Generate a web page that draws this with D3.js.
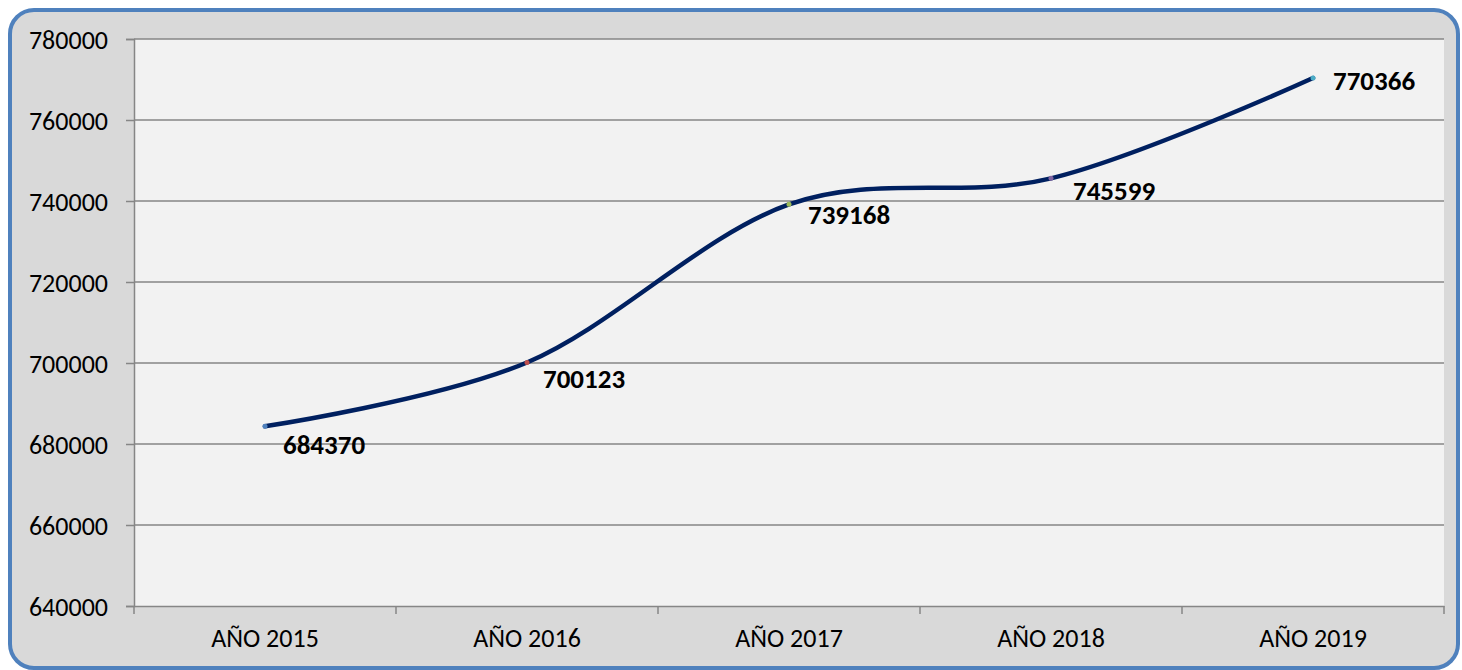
<!DOCTYPE html>
<html>
<head>
<meta charset="utf-8">
<script src="https://cdn.jsdelivr.net/npm/d3@7"></script>
<style>
  body { margin: 0; background: #ffffff; }
  svg { display: block; font-family: Carlito, Calibri, Lato, sans-serif; }
</style>
</head>
<body>
<svg width="1462" height="670"></svg>
<script>
const years = ['AÑO 2015', 'AÑO 2016', 'AÑO 2017', 'AÑO 2018', 'AÑO 2019'];
const values = [684370, 700123, 739168, 745599, 770366];
const yTicks = [640000, 660000, 680000, 700000, 720000, 740000, 760000, 780000];
const pointColors = ['#4f81bd', '#c0504d', '#9bbb59', '#8064a2', '#4bacc6'];
// label offsets from the point (dx, dy of text centre-left)
const labelOffsets = [[18, 18], [16, 16], [19, 10], [22, 12], [20, 2]];

const svg = d3.select('svg');
const width = +svg.attr('width');
const height = +svg.attr('height');

const margin = { top: 39, right: 18, bottom: 64, left: 134 };
const innerWidth = width - margin.left - margin.right;
const innerHeight = height - margin.top - margin.bottom;

// chart frame
svg.append('rect')
  .attr('x', 10).attr('y', 10)
  .attr('width', 1448).attr('height', 658)
  .attr('rx', 24).attr('ry', 24)
  .attr('fill', '#d9d9d9')
  .attr('stroke', '#4f81bd')
  .attr('stroke-width', 4);

const g = svg.append('g')
  .attr('transform', `translate(${margin.left},${margin.top})`);

const xScale = d3.scaleBand()
  .domain(years)
  .range([0, innerWidth]);

const yScale = d3.scaleLinear()
  .domain([640000, 780000])
  .range([innerHeight, 0]);

g.append('rect')
  .attr('width', innerWidth)
  .attr('height', innerHeight)
  .attr('fill', '#f2f2f2');

// y axis with gridlines
const yAxisG = g.append('g')
  .call(d3.axisLeft(yScale).tickValues(yTicks).tickFormat(d3.format('d'))
    .tickSize(8).tickPadding(18))
  .attr('font-family', null)
  .attr('font-size', 26);
yAxisG.selectAll('.tick text').attr('dy', '0.36em').attr('fill', '#000');
yAxisG.selectAll('.tick line').attr('stroke', '#868686').attr('stroke-width', 1.5);
yAxisG.select('.domain').attr('stroke', '#868686').attr('stroke-width', 1.5);

g.append('g')
  .selectAll('line')
  .data(yTicks.slice(1))
  .join('line')
    .attr('x1', 0).attr('x2', innerWidth)
    .attr('y1', d => yScale(d)).attr('y2', d => yScale(d))
    .attr('stroke', '#868686')
    .attr('stroke-width', 1.5);

// x axis, ticks at band edges
const xAxisG = g.append('g')
  .attr('transform', `translate(0,${innerHeight})`)
  .call(d3.axisBottom(xScale).tickSize(0).tickPadding(25))
  .attr('font-family', null)
  .attr('font-size', 26);
xAxisG.select('.domain').attr('stroke', '#868686').attr('stroke-width', 1.5);
xAxisG.selectAll('.tick text').attr('dy', '0.6em').attr('fill', '#000');

const edges = years.map(d => xScale(d)).concat([innerWidth]);
xAxisG.selectAll('.edge')
  .data(edges)
  .join('line')
    .attr('class', 'edge')
    .attr('x1', d => d).attr('x2', d => d)
    .attr('y1', 0).attr('y2', 8)
    .attr('stroke', '#868686')
    .attr('stroke-width', 1.5);

const xPos = (d, i) => xScale(years[i]) + xScale.bandwidth() / 2;

const line = d3.line()
  .x(xPos)
  .y(d => yScale(d))
  .curve(d3.curveCardinal.tension(0));

g.append('path')
  .datum(values)
  .attr('d', line)
  .attr('fill', 'none')
  .attr('stroke', '#002060')
  .attr('stroke-width', 4.5)
  .attr('stroke-linecap', 'round');

g.selectAll('.dot')
  .data(values)
  .join('circle')
    .attr('class', 'dot')
    .attr('cx', xPos)
    .attr('cy', d => yScale(d))
    .attr('r', 2.5)
    .attr('fill', (d, i) => pointColors[i]);

g.selectAll('.label')
  .data(values)
  .join('text')
    .attr('class', 'label')
    .attr('x', (d, i) => xPos(d, i) + labelOffsets[i][0])
    .attr('y', (d, i) => yScale(d) + labelOffsets[i][1])
    .attr('dy', '0.36em')
    .attr('font-size', 27)
    .attr('font-weight', 'bold')
    .attr('fill', '#000')
    .text(d => d);
</script>
</body>
</html>
